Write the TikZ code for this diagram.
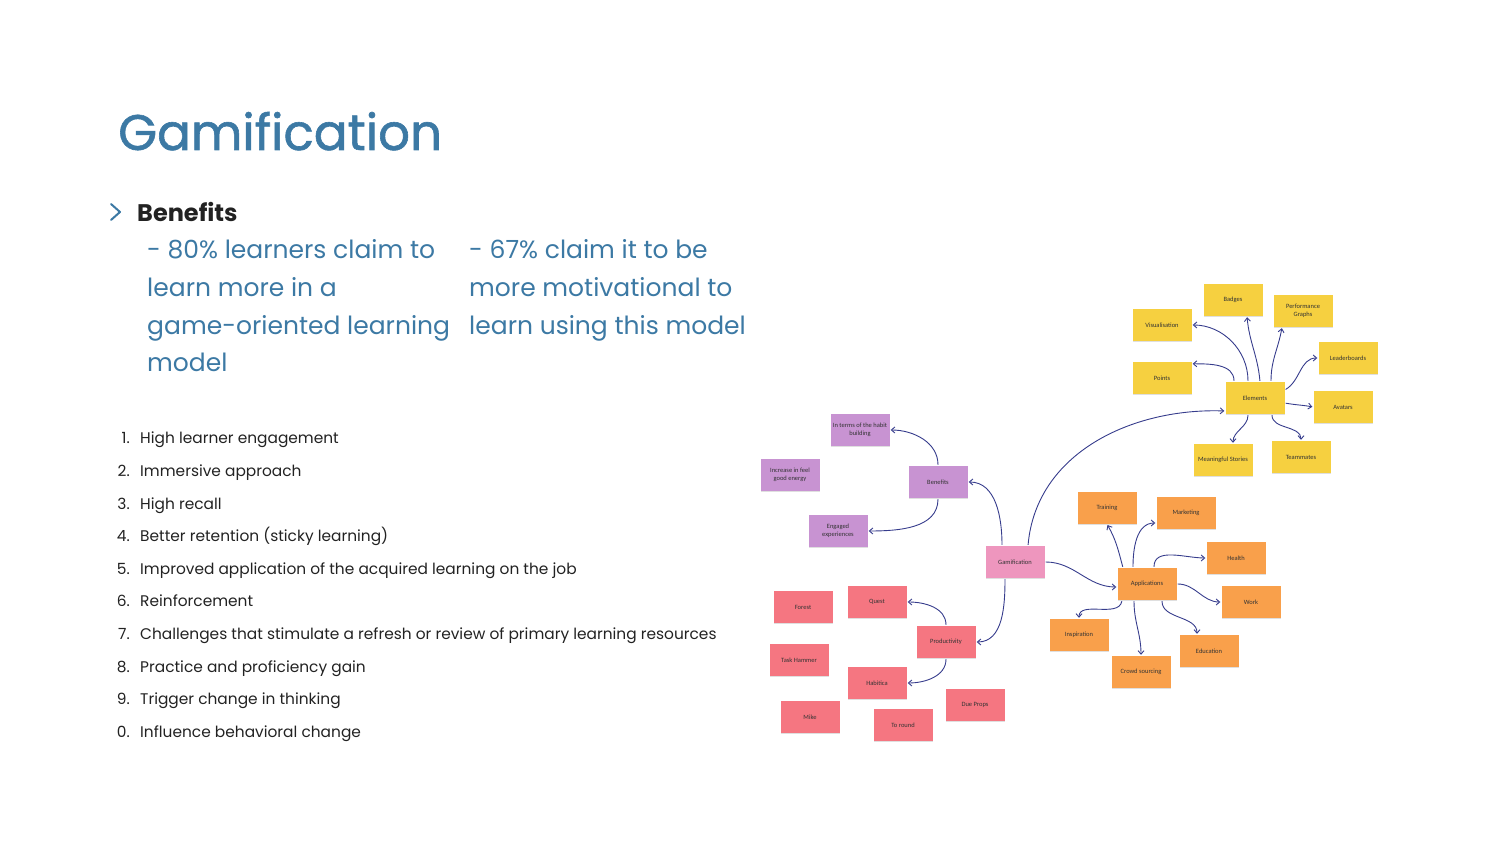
\documentclass[tikz,border=0pt]{standalone}
\usepackage{fontspec}
\setmainfont{Poppins}
\newfontfamily\titlefont[FakeBold=1.2]{Poppins}
\newfontfamily\notefont{Carlito}
\usetikzlibrary{arrows.meta,shadows,scopes}
\definecolor{titleblue}{HTML}{3C79A4}
\definecolor{inkblue}{HTML}{363C8C}
\definecolor{listgray}{HTML}{222222}
\definecolor{noteyellow}{HTML}{F6D040}
\definecolor{notepurple}{HTML}{C893D2}
\definecolor{notepink}{HTML}{EE96BE}
\definecolor{noteorange}{HTML}{F9A04B}
\definecolor{notered}{HTML}{F57681}
\begin{document}
\begin{tikzpicture}[x=1pt,y=1pt,
    note/.style={rectangle,minimum width=59pt,minimum height=32pt,inner sep=1pt,align=center,
        text=black!80,font=\notefont\fontsize{6.5}{7.5}\selectfont,
        drop shadow={shadow xshift=0.4pt,shadow yshift=-1.3pt,opacity=0.25}},
    yel/.style={note,fill=noteyellow},
    pur/.style={note,fill=notepurple},
    ora/.style={note,fill=noteorange},
    red/.style={note,fill=notered},
    link/.style={->,>={Straight Barb[length=3.5pt,width=6pt]},draw=inkblue,line width=0.9pt,shorten <=1pt,shorten >=1pt},
    stat/.style={anchor=base west,inner sep=0pt,text=titleblue,font=\fontsize{25}{25}\selectfont},
    num/.style={anchor=base east,inner sep=0pt,text=listgray,font=\fontsize{15.4}{15.4}\selectfont},
    item/.style={anchor=base west,inner sep=0pt,text=listgray,font=\fontsize{15.4}{15.4}\selectfont}
]
    \useasboundingbox (0,0) rectangle (1500,844);

    % heading and benefits
    \node[anchor=base west,inner sep=0pt,text=titleblue,font=\titlefont\fontsize{50}{50}\selectfont] (title) at (118,694) {Gamification};
    \draw[titleblue,line width=2pt,line cap=round,line join=round] (111,640) -- (120,632) -- (111,624);
    \node[anchor=base west,inner sep=0pt,text=listgray,font=\bfseries\fontsize{24}{24}\selectfont] (benefitshead) at (137,622) {Benefits};
    \foreach \txt [count=\k] in {- 80\% learners claim to,learn more in a,game-oriented learning,model}
        \node[stat] (statA\k) at (147,{585-37.6*(\k-1)}) {\txt};
    \foreach \txt [count=\k] in {- 67\% claim it to be,more motivational to,learn using this model}
        \node[stat] (statB\k) at (469,{585-37.6*(\k-1)}) {\txt};

    % numbered list
    \foreach \n/\txt [count=\k] in {1/High learner engagement,2/Immersive approach,3/High recall,
        4/Better retention (sticky learning),5/Improved application of the acquired learning on the job,
        6/Reinforcement,7/Challenges that stimulate a refresh or review of primary learning resources,
        8/Practice and proficiency gain,9/Trigger change in thinking,0/Influence behavioral change}
    {
        \node[num] (num\k) at (130,{400-32.6*(\k-1)}) {\n.};
        \node[item] (item\k) at (140,{400-32.6*(\k-1)}) {\txt};
    }

    % mind map
    \node[pur,fill=notepink] (gamif) at (1015,282) {Gamification};

    \node[yel] (elements) at (1255,446) {Elements};
    \node[yel] (badges) at (1233,544) {Badges};
    \node[yel] (perf) at (1303,533) {Performance\\Graphs};
    \node[yel] (vis) at (1162,519) {Visualisation};
    \node[yel] (leader) at (1348,486) {Leaderboards};
    \node[yel] (points) at (1162,466) {Points};
    \node[yel] (avatars) at (1343,437) {Avatars};
    \node[yel] (stories) at (1223,384) {Meaningful Stories};
    \node[yel] (team) at (1301,387) {Teammates};

    \node[pur] (benefits) at (938,362) {Benefits};
    \node[pur] (habit) at (860,414) {In terms of the habit\\building};
    \node[pur] (energy) at (790,369) {Increase in feel\\good energy};
    \node[pur] (engaged) at (838,313) {Engaged\\experiences};

    \node[ora] (apps) at (1147,260) {Applications};
    \node[ora] (training) at (1107,336) {Training};
    \node[ora] (marketing) at (1186,331) {Marketing};
    \node[ora] (health) at (1236,286) {Health};
    \node[ora] (work) at (1251,242) {Work};
    \node[ora] (inspire) at (1079,209) {Inspiration};
    \node[ora] (education) at (1209,193) {Education};
    \node[ora] (crowd) at (1141,172) {Crowd sourcing};

    \node[red] (prod) at (946,202) {Productivity};
    \node[red] (forest) at (803,237) {Forest};
    \node[red] (quest) at (877,242) {Quest};
    \node[red] (hammer) at (799,184) {Task Hammer};
    \node[red] (habitica) at (877,161) {Habitica};
    \node[red] (dueprops) at (975,139) {Due Props};
    \node[red] (mike) at (810,127) {Mike};
    \node[red] (toround) at (903,119) {To round};

    {[link]
        \draw ([xshift=-13pt]gamif.north) to[out=90,in=0] (benefits.east);
        \draw ([xshift=13pt]gamif.north) to[out=85,in=178] ([yshift=-13pt]elements.west);
        \draw (gamif.east) to[out=0,in=180] ([yshift=-3pt]apps.west);
        \draw ([xshift=-10pt]gamif.south) to[out=-90,in=0] (prod.east);

        \draw (benefits.north) to[out=90,in=0] (habit.east);
        \draw (benefits.south) to[out=-90,in=0] (engaged.east);
        \draw (prod.north) to[out=90,in=0] (quest.east);
        \draw (prod.south) to[out=-90,in=0] (habitica.east);

        \draw ([xshift=-7pt]elements.north) to[out=90,in=0] (vis.east);
        \draw ([xshift=-21pt]elements.north) to[out=90,in=0] ([yshift=-2pt]points.north east);
        \draw ([xshift=5pt]elements.north) to[out=95,in=-85] ([xshift=14pt]badges.south);
        \draw ([xshift=16pt]elements.north) to[out=90,in=-100] ([xshift=-21pt]perf.south);
        \draw ([yshift=8pt]elements.east) to[out=30,in=180] (leader.west);
        \draw ([yshift=-5pt]elements.east) to[out=-10,in=170] (avatars.west);
        \draw ([xshift=-7pt]elements.south) to[out=-90,in=90] ([xshift=10pt]stories.north);
        \draw ([xshift=17pt]elements.south) to[out=-90,in=90] (team.north);

        \draw ([xshift=-24pt]apps.north) to[out=105,in=-60] (training.south);
        \draw ([xshift=-14pt]apps.north) to[out=90,in=180] ([yshift=-10pt]marketing.west);
        \draw ([xshift=7pt]apps.north) to[out=90,in=180] (health.west);
        \draw (apps.east) to[out=0,in=180] (work.west);
        \draw ([xshift=-25pt]apps.south) to[out=-100,in=90] (inspire.north);
        \draw ([xshift=-13pt]apps.south) to[out=-90,in=90] (crowd.north);
        \draw ([xshift=15pt]apps.south) to[out=-90,in=90] ([xshift=-12pt]education.north);
    }
\end{tikzpicture}
\end{document}
